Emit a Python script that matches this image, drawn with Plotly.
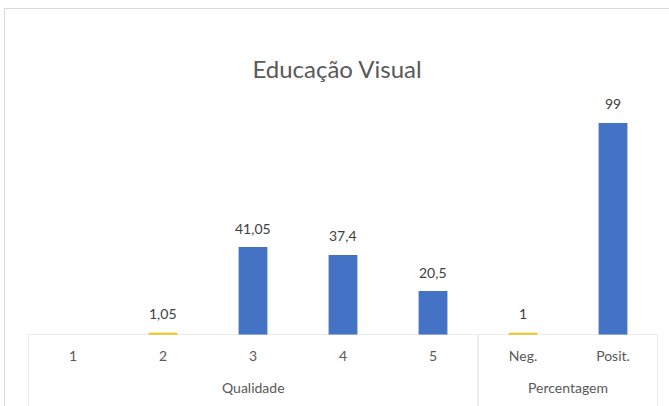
import plotly.graph_objects as go

categories = ["1", "2", "3", "4", "5", "Neg.", "Posit."]
groups = ["Qualidade", "Percentagem"]
group_sizes = [5, 2]
values = [None, 1.05, 41.05, 37.4, 20.5, 1, 99]
colors = ["#4472C4", "#FFC000", "#4472C4", "#4472C4", "#4472C4", "#FFC000", "#4472C4"]

W, H = 669, 406
ML, MR, MT, MB = 28, 11, 78, 71
plot_h = H - MT - MB
FONT = "Lato, Open Sans, sans-serif"

xs = list(range(len(categories)))
labels = ["" if v is None else (("%g" % v).replace(".", ",")) for v in values]

fig = go.Figure()
fig.add_trace(go.Bar(
    x=xs, y=[0 if v is None else v for v in values],
    marker=dict(color=colors, line=dict(width=0)),
    width=0.32,
    hoverinfo="skip",
))

annotations = []
for x, v, t in zip(xs, values, labels):
    if v is None:
        continue
    annotations.append(dict(text=t, x=x, y=v, xref="x", yref="y", showarrow=False,
                            yanchor="middle", yshift=19,
                            font=dict(family=FONT, size=14, color="#404040")))

grid = "#D9D9D9"
shapes = []
shapes.append(dict(type="line", xref="x", yref="y", x0=-0.5, x1=len(categories) - 0.5, y0=0, y1=0,
                   line=dict(color=grid, width=1)))
bottom = -(MB + 5) / plot_h
b = -0.5
bounds = [b]
for s in group_sizes:
    b += s
    bounds.append(b)
for bx in bounds:
    shapes.append(dict(type="line", xref="x", yref="paper", x0=bx, x1=bx, y0=0, y1=bottom,
                       line=dict(color=grid, width=1)))
px_left = 4.5
px_top = 8.5
fx = (px_left - ML) / (W - ML - MR)
fy = 1 + (MT - px_top) / plot_h
shapes.append(dict(type="line", xref="paper", yref="paper", x0=fx, x1=fx, y0=fy, y1=bottom,
                   line=dict(color=grid, width=1)))
shapes.append(dict(type="line", xref="paper", yref="paper", x0=fx, x1=1.05, y0=fy, y1=fy,
                   line=dict(color=grid, width=1)))

start = 0
for g, s in zip(groups, group_sizes):
    center = start + (s - 1) / 2
    annotations.append(dict(text=g, x=center, xref="x", y=-(387 - (H - MB)) / plot_h, yref="paper",
                            showarrow=False, yanchor="middle",
                            font=dict(family=FONT, size=14, color="#595959")))
    start += s

fig.update_layout(
    width=W, height=H,
    margin=dict(l=ML, r=MR, t=MT, b=MB),
    paper_bgcolor="white", plot_bgcolor="white",
    showlegend=False,
    title=dict(text="Educação Visual", x=(337 - ML) / (W - ML - MR), xref="paper", xanchor="center",
               y=1 - 70 / H, yanchor="middle",
               font=dict(family=FONT, size=24, color="#595959")),
    xaxis=dict(range=[-0.5, len(categories) - 0.5], tickvals=xs, ticktext=categories,
               showgrid=False, zeroline=False, showline=False, ticks="",
               ticklabelstandoff=11,
               tickfont=dict(family=FONT, size=14, color="#595959")),
    yaxis=dict(range=[0, 120], visible=False, showgrid=False, zeroline=False),
    shapes=shapes, annotations=annotations,
)

fig.write_html("out.html", config={"displayModeBar": False},
               post_script="document.body.style.margin='0';document.body.style.overflow='hidden';")
